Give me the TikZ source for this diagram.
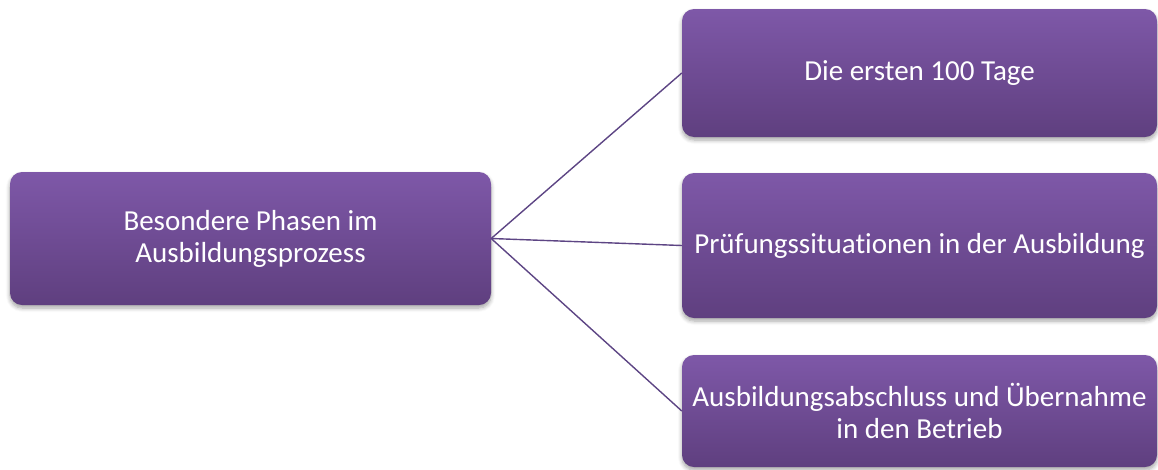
\documentclass[tikz,border=0pt]{standalone}
\usepackage{fontspec}
\setmainfont{Carlito}[Ligatures={NoCommon}]
\usetikzlibrary{shadows.blur}
\definecolor{boxtop}{HTML}{7E58A8}
\definecolor{boxbot}{HTML}{5F3F7F}
\definecolor{linkcol}{HTML}{5D4584}
\tikzset{
  phasebox/.style={rectangle, rounded corners=12pt, draw=none,
    top color=boxtop, bottom color=boxbot, text=white, align=center,
    inner sep=0pt, font=\fontsize{29}{32}\selectfont,
    blur shadow={shadow xshift=0pt, shadow yshift=-3pt, shadow blur steps=6, shadow opacity=35, shadow blur radius=4pt}},
  link/.style={draw=linkcol, line width=1.4pt}
}
\begin{document}
\begin{tikzpicture}[x=1pt,y=-1pt]
\useasboundingbox (0,0) rectangle (1158,469);
\begin{scope}
\clip (0,0) rectangle (1158,469);
\node[phasebox, minimum width=481pt, minimum height=133pt] (main) at (250.5,238.5) {Besondere Phasen im\\Ausbildungsprozess};
\node[phasebox, minimum width=475pt, minimum height=128pt] (p1) at (919.5,73) {Die ersten 100 Tage};
\node[phasebox, minimum width=475pt, minimum height=145pt] (p2) at (919.5,245.5) {Prüfungssituationen in der Ausbildung};
\node[phasebox, minimum width=475pt, minimum height=112pt] (p3) at (919.5,411) {Ausbildungsabschluss und Übernahme\\in den Betrieb};
\draw[link] (main.east) -- (p1.west);
\draw[link] (main.east) -- (p2.west);
\draw[link] (main.east) -- (p3.west);
\end{scope}
\end{tikzpicture}
\end{document}
